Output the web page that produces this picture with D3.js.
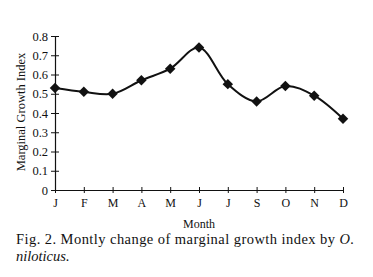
<!DOCTYPE html>
<html>
<head>
<meta charset="utf-8">
<script src="https://cdn.jsdelivr.net/npm/d3@7"></script>
<style>
body { margin: 0; background: #fff; }
text { font-family: "Liberation Serif", "Times New Roman", serif; fill: #111; }
</style>
</head>
<body>
<div id="chart"></div>
<script>
var months = ["J", "F", "M", "A", "M", "J", "J", "S", "O", "N", "D"];
var mgi = [0.53, 0.51, 0.50, 0.57, 0.63, 0.74, 0.55, 0.46, 0.54, 0.49, 0.37];
var yTicks = [0, 0.1, 0.2, 0.3, 0.4, 0.5, 0.6, 0.7, 0.8];

var width = 373, height = 277;
var plotLeft = 55, plotRight = 343, plotTop = 36, plotBottom = 190;

var svg = d3.select("#chart").append("svg")
  .attr("width", width)
  .attr("height", height);

var data = mgi.map(function(v, i) { return { i: i, v: v }; });

var xScale = d3.scaleLinear().domain([0, months.length - 1]).range([plotLeft, plotRight]);
var yScale = d3.scaleLinear().domain([0, 0.8]).range([plotBottom, plotTop]);

// y axis
var yAxis = d3.axisLeft(yScale)
  .tickValues(yTicks)
  .tickSizeInner(4)
  .tickSizeOuter(0)
  .tickFormat(function(d) { return d === 0 ? "0" : d3.format(".1f")(d); });

var gy = svg.append("g")
  .attr("transform", "translate(" + plotLeft + ",0)")
  .call(yAxis);
gy.select(".domain").attr("stroke", "#111").attr("stroke-width", 1.2);
gy.selectAll(".tick line").attr("x1", -4).attr("x2", 4).attr("stroke", "#111");
gy.selectAll(".tick text").attr("x", -7).style("font-size", "12.5px");

// x axis
var xAxis = d3.axisBottom(xScale)
  .tickValues(d3.range(months.length))
  .tickSizeInner(3)
  .tickSizeOuter(0)
  .tickFormat(function(d) { return months[d]; });

var gx = svg.append("g")
  .attr("transform", "translate(0," + plotBottom + ")")
  .call(xAxis);
gx.select(".domain").attr("stroke", "#111").attr("stroke-width", 1.2);
gx.selectAll(".tick line").attr("y1", -3).attr("y2", 3).attr("stroke", "#111");
gx.selectAll(".tick text").attr("y", 8).style("font-size", "12px");

// axis titles
svg.append("text")
  .attr("transform", "translate(25," + ((plotTop + plotBottom) / 2 - 1) + ") rotate(-90)")
  .attr("text-anchor", "middle")
  .style("font-size", "12.5px")
  .text("Marginal Growth Index");

svg.append("text")
  .attr("x", (plotLeft + plotRight) / 2)
  .attr("y", 228)
  .attr("text-anchor", "middle")
  .style("font-size", "12px")
  .text("Month");

// smoothed line
var line = d3.line()
  .x(function(d) { return xScale(d.i); })
  .y(function(d) { return yScale(d.v); })
  .curve(d3.curveCatmullRom.alpha(0.5));

svg.append("path")
  .attr("d", line(data))
  .attr("fill", "none")
  .attr("stroke", "#111")
  .attr("stroke-width", 2);

// diamond markers
svg.selectAll(".pt")
  .data(data)
  .enter()
  .append("path")
  .attr("class", "pt")
  .attr("d", d3.symbol().type(d3.symbolDiamond2).size(70))
  .attr("transform", function(d) { return "translate(" + xScale(d.i) + "," + yScale(d.v) + ")"; })
  .attr("fill", "#111");

// caption
var cap = svg.append("text")
  .attr("x", 16)
  .attr("y", 244)
  .style("font-size", "14.5px")
  .attr("textLength", 338)
  .attr("lengthAdjust", "spacing");
cap.append("tspan").text("Fig. 2. Montly change of marginal growth index by ");
cap.append("tspan").style("font-style", "italic").text("O.");

svg.append("text")
  .attr("x", 16)
  .attr("y", 261)
  .style("font-size", "14.5px")
  .style("font-style", "italic")
  .text("niloticus.");
</script>
</body>
</html>
